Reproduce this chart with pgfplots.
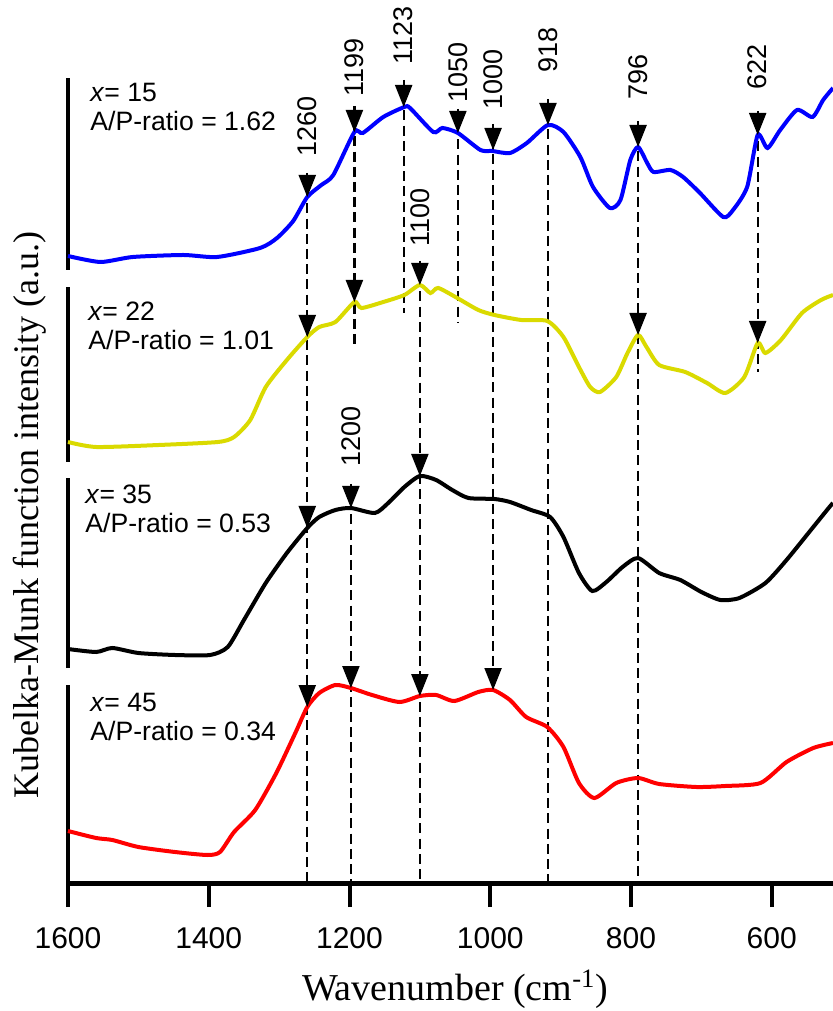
\documentclass[border=0pt]{standalone}
\usepackage{pgfplots}
\pgfplotsset{compat=1.18}
\usepackage{fontspec}
\setmainfont{Liberation Sans}
\newfontfamily\seriffont{Liberation Serif}
\definecolor{kmyellow}{RGB}{218,218,0}
\pgfdeclareplotmark{darrow}{%
 \pgfpathmoveto{\pgfpoint{0pt}{0pt}}%
 \pgfpathlineto{\pgfpoint{-4.4pt}{11pt}}%
 \pgfpathlineto{\pgfpoint{4.4pt}{11pt}}%
 \pgfpathclose\pgfusepathqfill}
\tikzset{
 dashline/.style={black, line width=1.1pt, dash pattern=on 5pt off 2.6pt},
 lbl/.style={rotate=90, anchor=west, inner sep=0pt, font=\fontsize{13.5}{13.5}\selectfont},
 ann/.style={anchor=north west, align=left, inner sep=0pt, font=\fontsize{13.3}{14.5}\selectfont},
}
\begin{document}
\begin{tikzpicture}
\useasboundingbox (-34pt,-64pt) rectangle (382.5pt,441.5pt);
\begin{axis}[
 scale only axis, width=382.5pt, height=441.5pt,
 at={(0,0)}, anchor=south west,
 x dir=reverse, xmin=513, xmax=1600, ymin=0, ymax=883,
 enlargelimits=false, clip=false,
 axis x line*=bottom, axis y line=none,
 x axis line style={line width=2.5pt, -},
 xtick={600,800,1000,1200,1400,1600},
 xtick align=outside, major tick length=12pt,
 tick style={line width=2pt, black},
 /pgf/number format/1000 sep={},
 /pgf/number format/assume math mode=true,
 xticklabel style={font=\fontsize{15}{15}\selectfont, inner sep=0pt, yshift=-10pt},
]
% left bars
\addplot[black, line width=2pt] coordinates {(1600,613) (1600,805)};
\addplot[black, line width=2pt] coordinates {(1600,421) (1600,596)};
\addplot[black, line width=2pt] coordinates {(1600,215) (1600,405)};
\addplot[black, line width=2pt] coordinates {(1600,0) (1600,198)};
% dashed lines
\addplot[dashline] coordinates {(1260,710) (1260,0)};
\addplot[dashline] coordinates {(1193,777) (1193,536)};
\addplot[dashline] coordinates {(1123,803) (1123,570)};
\addplot[dashline] coordinates {(1046,774) (1046,561)};
\addplot[dashline] coordinates {(996,759) (996,193)};
\addplot[dashline] coordinates {(918,784) (918,0)};
\addplot[dashline] coordinates {(790,762) (790,0)};
\addplot[dashline] coordinates {(620,772) (620,511)};
\addplot[dashline] coordinates {(1100,622) (1100,0)};
\addplot[dashline] coordinates {(1198,399) (1198,0)};
% spectra
\addplot[blue, line width=2pt, smooth, tension=0.4] coordinates {
(1600,627)(1554,621)(1508,626)(1436,628)(1388,626)(1327,635)(1303,645)(1280,662)(1260,686)(1240,698)(1223,708)(1193,751)(1181,750)(1152,766)(1122,776)(1114,775)(1081,751)(1068,755)(1046,750)(1014,733)(997,732)(972,730)(948,740)(918,758)(896,751)(872,726)(854,696)(830,675)(815,683)(801,723)(790,736)(777,720)(768,711)(744,713)(726,706)(702,690)(669,666)(655,673)(635,696)(620,748)(606,735)(588,753)(564,773)(542,766)(527,783)(513,795)};
\addplot[kmyellow, line width=2pt, smooth, tension=0.4] coordinates {
(1600,441)(1560,436)(1471,438)(1387,441)(1364,446)(1341,463)(1319,496)(1289,523)(1260,546)(1243,556)(1220,561)(1193,581)(1183,575)(1152,581)(1122,588)(1100,598)(1085,590)(1074,595)(1047,585)(1017,573)(994,568)(956,563)(919,562)(896,546)(874,516)(858,496)(844,491)(821,506)(805,530)(790,548)(778,536)(760,518)(723,511)(692,500)(666,490)(639,506)(620,540)(609,530)(587,543)(557,570)(530,583)(513,588)};
\addplot[black, line width=2pt, smooth, tension=0.4] coordinates {
(1600,234)(1560,231)(1537,235)(1500,230)(1448,228)(1398,228)(1373,236)(1350,263)(1319,300)(1289,330)(1260,355)(1243,366)(1220,373)(1198,375)(1164,370)(1145,380)(1122,396)(1100,407)(1077,403)(1054,393)(1031,385)(994,384)(972,381)(942,373)(915,366)(896,346)(874,310)(855,292)(835,301)(812,316)(790,325)(760,310)(730,303)(700,291)(673,283)(646,285)(609,300)(579,323)(541,356)(518,376)(513,380)};
\addplot[red, line width=2pt, smooth, tension=0.4] coordinates {
(1600,52)(1560,45)(1537,43)(1500,36)(1448,31)(1402,28)(1384,31)(1364,51)(1334,73)(1304,110)(1277,150)(1260,176)(1243,190)(1220,198)(1198,195)(1168,188)(1129,181)(1100,187)(1077,188)(1051,182)(1017,191)(996,193)(972,183)(949,166)(919,156)(896,136)(874,100)(852,85)(821,100)(790,105)(760,99)(707,96)(666,97)(616,100)(579,121)(541,135)(513,140)};
% arrow heads
\addplot[only marks, mark=darrow, black] coordinates {
(1260,686)(1260,546)(1260,355)(1260,176)
(1193,751)(1193,581)
(1123,776)
(1046,750)
(996,733)(996,193)
(918,758)
(790,736)(790,548)
(620,748)(620,540)
(1100,598)(1100,407)(1100,187)
(1198,375)(1198,195)};
% peak labels
\node[lbl] at (axis cs:1260,726) {1260};
\node[lbl] at (axis cs:1193,786) {1199};
\node[lbl] at (axis cs:1123,818) {1123};
\node[lbl] at (axis cs:1046,780) {1050};
\node[lbl] at (axis cs:996,773) {1000};
\node[lbl] at (axis cs:918,810) {918};
\node[lbl] at (axis cs:790,783) {796};
\node[lbl] at (axis cs:620,793) {622};
\node[lbl] at (axis cs:1100,636) {1100};
\node[lbl] at (axis cs:1198,416) {1200};
% annotations
\node[ann] at (axis cs:1568.7,800) {\textit{x}= 15\\A/P-ratio = 1.62};
\node[ann] at (axis cs:1571.6,581) {\textit{x}= 22\\A/P-ratio = 1.01};
\node[ann] at (axis cs:1575.8,398) {\textit{x}= 35\\A/P-ratio = 0.53};
\node[ann] at (axis cs:1568.7,190) {\textit{x}= 45\\A/P-ratio = 0.34};
% axis labels
\node[rotate=90, font=\seriffont\fontsize{18}{18}\selectfont] at (axis cs:1654,368) {Kubelka-Munk function intensity (a.u.)};
\node[anchor=base, font=\seriffont\fontsize{19}{19}\selectfont] at (axis cs:1050,-117) {Wavenumber (cm\textsuperscript{-1})};
\end{axis}
\end{tikzpicture}
\end{document}
